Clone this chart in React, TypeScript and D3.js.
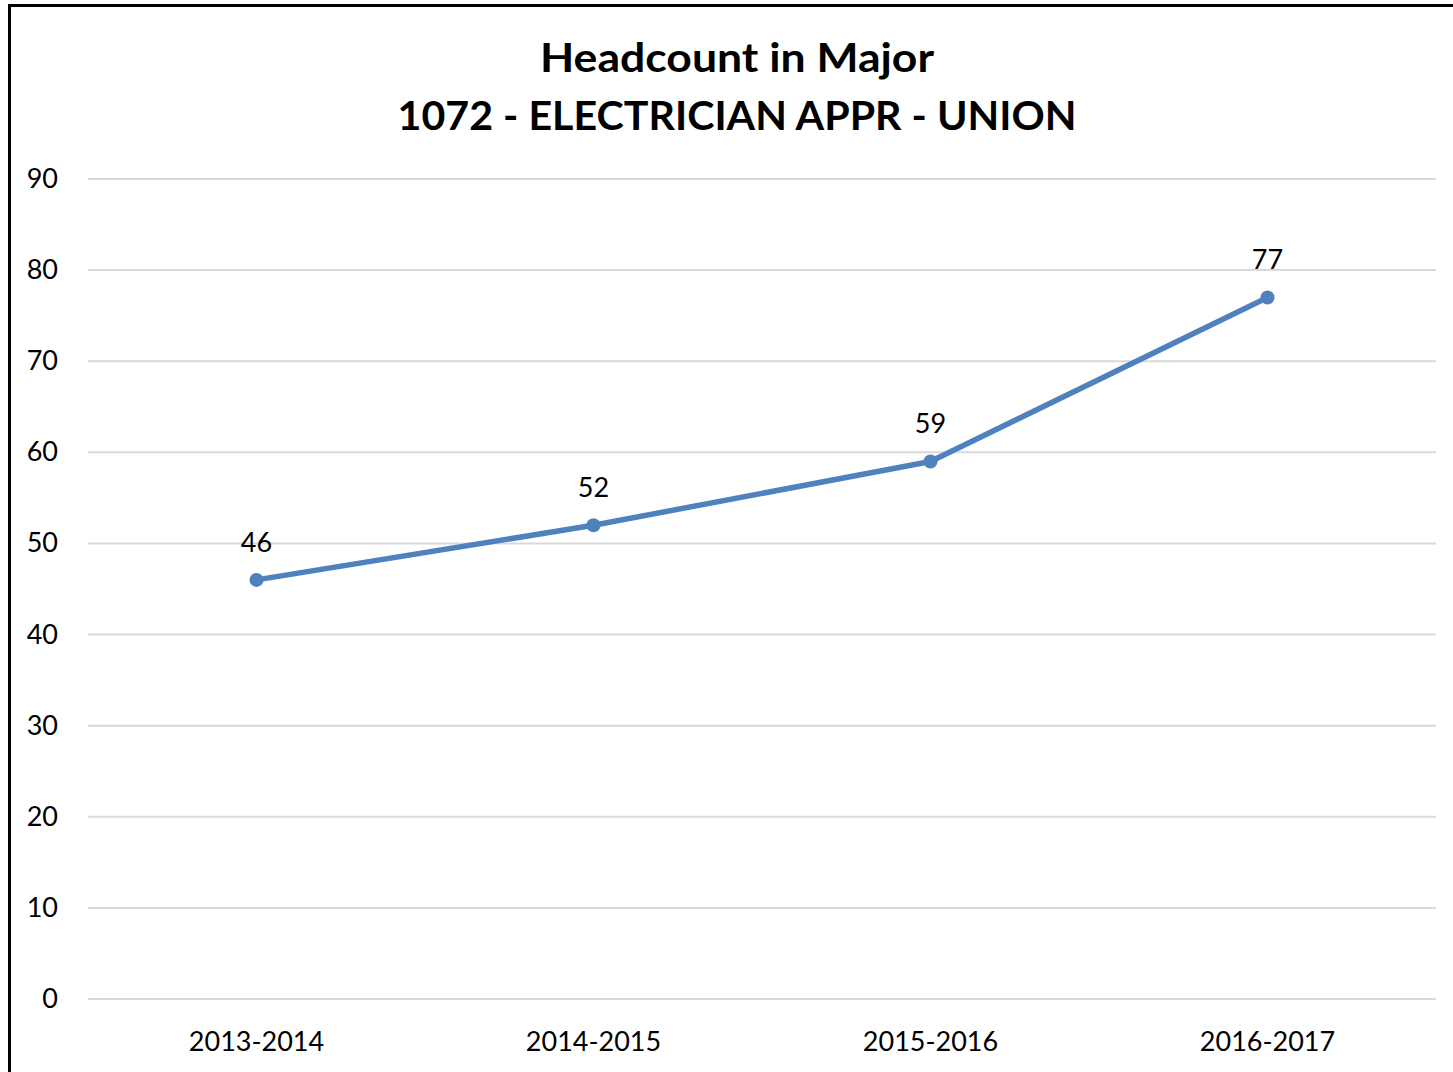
import React from 'react';
import * as d3 from 'd3';

const years = ['2013-2014', '2014-2015', '2015-2016', '2016-2017'];
const headcount = [46, 52, 59, 77];
const yTicks = [0, 10, 20, 30, 40, 50, 60, 70, 80, 90];
const titleLines = ['Headcount in Major', '1072 - ELECTRICIAN APPR - UNION'];
const titleWidths = [394, 679];

const width = 1453;
const height = 1072;
const font = 'Lato, "Open Sans", sans-serif';

const App = () => {
  const x = d3.scaleBand().domain(years).range([88, 1436]);
  const y = d3.scaleLinear().domain([0, 90]).range([999, 179]);
  const cx = (d: string) => (x(d) || 0) + x.bandwidth() / 2;

  const line = d3
    .line<number>()
    .x((_, i) => cx(years[i]))
    .y((d) => y(d));

  return (
    <svg
      width={width}
      height={height}
      style={{ position: 'absolute', left: 0, top: 0, background: '#fff' }}
    >
      <rect x={9.5} y={5.5} width={width + 20} height={height + 20} fill="#fff" stroke="#000" strokeWidth={3} />

      {titleLines.map((t, i) => (
        <text
          key={t}
          x={737}
          y={72 + i * 58}
          textAnchor="middle"
          fontFamily={font}
          fontWeight="bold"
          fontSize={41}
          textLength={titleWidths[i]}
          lengthAdjust="spacingAndGlyphs"
          fill="#000"
        >
          {t}
        </text>
      ))}

      {/* gridlines and y labels */}
      {yTicks.map((t) => (
        <g key={t}>
          <line x1={88} x2={1436} y1={y(t)} y2={y(t)} stroke="#d9d9d9" strokeWidth={2} />
          <text x={58} y={y(t) + 9} textAnchor="end" fontFamily={font} fontSize={27} fill="#000">
            {t}
          </text>
        </g>
      ))}

      {/* x labels */}
      {years.map((d) => (
        <text key={d} x={cx(d)} y={1051} textAnchor="middle" fontFamily={font} fontSize={27} fill="#000">
          {d}
        </text>
      ))}

      <path d={line(headcount) || ''} fill="none" stroke="#4f81bd" strokeWidth={5.5} strokeLinejoin="round" strokeLinecap="round" />

      {headcount.map((v, i) => (
        <g key={i}>
          <circle cx={cx(years[i])} cy={y(v)} r={7} fill="#4f81bd" />
          <text x={cx(years[i])} y={y(v) - 28} textAnchor="middle" fontFamily={font} fontSize={27} fill="#000">
            {v}
          </text>
        </g>
      ))}
    </svg>
  );
};

export default App;
